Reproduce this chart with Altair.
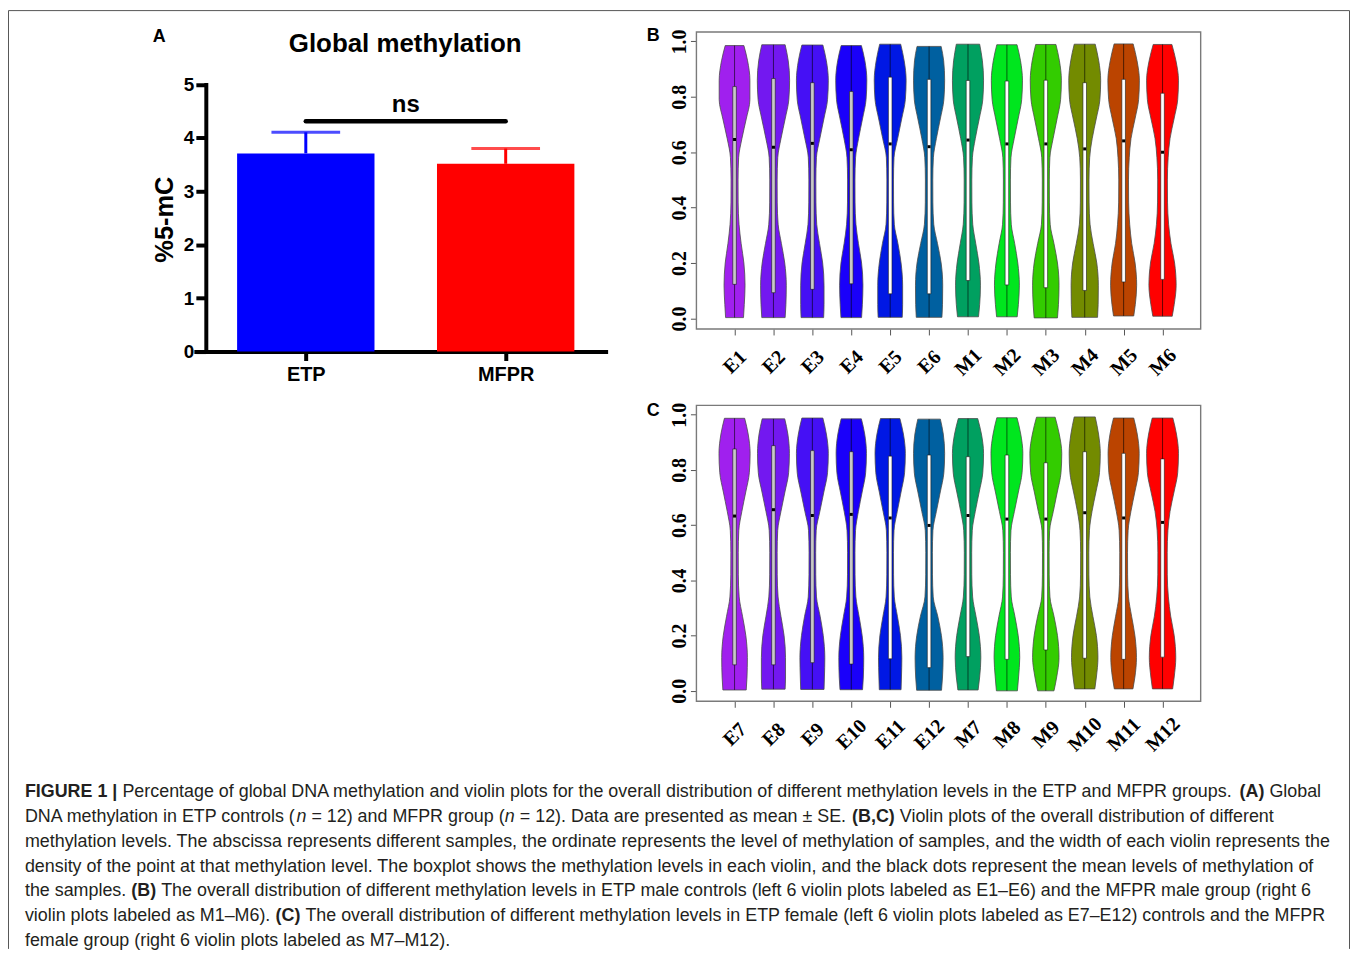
import altair as alt
import pandas as pd

# ================= Panel A : global methylation (mean + SE) =================
groups_A = ["ETP", "MFPR"]
positions_A = [1, 2]
means_A = [3.71, 3.515]
mean_plus_se_A = [4.105, 3.80]
colors_A = ["#0000FF", "#FF0000"]
sig_level_A = 4.31
sig_label_A = "ns"

# ================= Panels B & C : violin plots =================
names_B = ["E1", "E2", "E3", "E4", "E5", "E6", "M1", "M2", "M3", "M4", "M5", "M6"]
names_C = ["E7", "E8", "E9", "E10", "E11", "E12", "M7", "M8", "M9", "M10", "M11", "M12"]
violin_colors = ["#A020EE", "#7318F0", "#4510F5", "#1A00FA", "#0018E4", "#0060A0",
                 "#00A060", "#00E61E", "#33CC00", "#738B00", "#BB4400", "#FF0000"]
box_colors = ["#C8C8C8", "#C8C8C8", "#C8C8C8", "#C8C8C8", "#FFFFFF", "#FFFFFF",
              "#FFFFFF", "#FFFFFF", "#FFFFFF", "#FFFFFF", "#FFFFFF", "#FFFFFF"]

min_B = [0.003, 0.003, 0.003, 0.003, 0.004, 0.004, 0.006, 0.006, 0.002, 0.004, 0.009, 0.008]
max_B = [0.985, 0.988, 0.987, 0.985, 0.990, 0.982, 0.990, 0.988, 0.989, 0.990, 0.991, 0.989]
q1_B = [0.123, 0.093, 0.105, 0.125, 0.089, 0.089, 0.137, 0.121, 0.111, 0.101, 0.132, 0.141]
q3_B = [0.837, 0.866, 0.851, 0.819, 0.871, 0.863, 0.859, 0.857, 0.860, 0.851, 0.863, 0.813]
mean_B = [0.646, 0.618, 0.632, 0.609, 0.630, 0.620, 0.644, 0.630, 0.630, 0.612, 0.641, 0.600]

min_C = [0.003, 0.006, 0.005, 0.004, 0.004, 0.002, 0.003, 0.000, 0.000, 0.007, 0.007, 0.007]
max_C = [0.987, 0.985, 0.988, 0.985, 0.986, 0.984, 0.986, 0.989, 0.991, 0.992, 0.988, 0.988]
q1_C = [0.094, 0.094, 0.102, 0.097, 0.116, 0.084, 0.124, 0.114, 0.148, 0.118, 0.114, 0.122]
q3_C = [0.876, 0.888, 0.870, 0.866, 0.850, 0.854, 0.848, 0.854, 0.826, 0.866, 0.860, 0.840]
mean_C = [0.633, 0.656, 0.635, 0.639, 0.626, 0.599, 0.635, 0.622, 0.622, 0.645, 0.626, 0.610]

# violin half-widths (x units) at: min, these inner levels, max
inner_levels = [0.05, 0.12, 0.20, 0.27, 0.34, 0.42, 0.50, 0.58, 0.65, 0.72, 0.79, 0.86, 0.93]
halfwidth_B = [
    [.23, .25, .27, .24, .17, .115, .092, .09, .105, .19, .30, .395, .395, .335, .24],
    [.30, .32, .33, .29, .205, .12, .097, .095, .11, .195, .30, .395, .415, .38, .30],
    [.29, .30, .30, .265, .185, .112, .092, .09, .104, .193, .295, .39, .41, .36, .27],
    [.265, .285, .30, .265, .185, .12, .097, .095, .11, .188, .288, .38, .40, .35, .26],
    [.31, .32, .32, .28, .20, .106, .087, .085, .098, .193, .295, .39, .41, .36, .27],
    [.33, .345, .35, .31, .217, .12, .097, .095, .11, .188, .288, .38, .40, .375, .31],
    [.27, .30, .32, .28, .20, .122, .10, .098, .113, .188, .288, .38, .40, .37, .30],
    [.265, .295, .32, .28, .20, .112, .092, .09, .104, .188, .288, .38, .40, .35, .26],
    [.30, .325, .34, .30, .21, .112, .092, .09, .104, .188, .288, .38, .40, .35, .26],
    [.33, .345, .35, .31, .217, .137, .112, .11, .127, .193, .295, .39, .41, .36, .27],
    [.26, .30, .335, .295, .208, .156, .128, .125, .144, .19, .292, .385, .405, .345, .245],
    [.25, .30, .35, .31, .217, .156, .128, .125, .144, .193, .295, .39, .41, .345, .24],
]
halfwidth_C = [
    [.30, .32, .33, .29, .205, .119, .097, .095, .109, .188, .288, .38, .40, .35, .26],
    [.30, .31, .31, .273, .192, .119, .097, .095, .109, .193, .295, .39, .41, .37, .29],
    [.30, .31, .32, .28, .20, .106, .087, .085, .098, .193, .295, .39, .41, .36, .27],
    [.29, .31, .32, .28, .20, .119, .097, .095, .109, .183, .28, .37, .39, .345, .26],
    [.28, .29, .30, .265, .186, .106, .087, .085, .098, .183, .28, .37, .39, .34, .25],
    [.32, .345, .36, .317, .223, .106, .087, .085, .098, .188, .288, .38, .40, .365, .29],
    [.26, .30, .33, .29, .205, .119, .097, .095, .109, .188, .288, .38, .40, .345, .25],
    [.27, .30, .33, .29, .205, .112, .092, .09, .104, .193, .295, .39, .41, .355, .26],
    [.21, .28, .34, .30, .21, .106, .087, .085, .098, .193, .295, .39, .41, .345, .24],
    [.26, .30, .34, .30, .21, .131, .107, .105, .121, .188, .288, .38, .40, .355, .27],
    [.24, .29, .33, .29, .205, .125, .102, .10, .115, .188, .288, .38, .40, .35, .26],
    [.26, .30, .34, .30, .21, .15, .122, .12, .138, .193, .295, .39, .41, .358, .265],
]

# ================= caption =================
caption_lines = [
    [("FIGURE 1 |", "b"), (" Percentage of global DNA methylation and violin plots for the overall distribution of different methylation levels in the ETP and MFPR groups. ", "r"), ("(A)", "b"), (" Global", "r")],
    [("DNA methylation in ETP controls (", "r"), ("n", "i"), (" = 12) and MFPR group (", "r"), ("n", "i"), (" = 12). Data are presented as mean \u00b1 SE. ", "r"), ("(B,C)", "b"), (" Violin plots of the overall distribution of different", "r")],
    [("methylation levels. The abscissa represents different samples, the ordinate represents the level of methylation of samples, and the width of each violin represents the", "r")],
    [("density of the point at that methylation level. The boxplot shows the methylation levels in each violin, and the black dots represent the mean levels of methylation of", "r")],
    [("the samples. ", "r"), ("(B)", "b"), (" The overall distribution of different methylation levels in ETP male controls (left 6 violin plots labeled as E1\u2013E6) and the MFPR male group (right 6", "r")],
    [("violin plots labeled as M1\u2013M6). ", "r"), ("(C)", "b"), (" The overall distribution of different methylation levels in ETP female (left 6 violin plots labeled as E7\u2013E12) controls and the MFPR", "r")],
    [("female group (right 6 violin plots labeled as M7\u2013M12).", "r")],
]

# ---------------- layout (pixels inside the 1348 x 943 canvas) ----------------
W, H = 1348, 943
SANS = "Liberation Sans"
SERIF = "Liberation Serif"


def lin(domain, rng):
    return alt.Scale(domain=domain, range=rng, nice=False, zero=False, padding=0)


XA = lin([0.45, 2.5], [188.7, 600.3])
YA = lin([0, 5], [343.0, 74.7])
XLIM = [0.02, 12.98]
YLIM = [-0.038, 1.034]
XV = lin(XLIM, [691.5, 1198.0])
YB = lin(YLIM, [320.3, 22.0])
YC = lin(YLIM, [694.3, 397.0])

# ---------------- Panel A ----------------
dfA = pd.DataFrame({"group": groups_A, "pos": positions_A, "mean": means_A,
                    "top": mean_plus_se_A, "col": colors_A})
dfSig = pd.DataFrame({"x1": [positions_A[0]], "x2": [positions_A[1]],
                      "xm": [(positions_A[0] + positions_A[1]) / 2],
                      "y": [sig_level_A], "label": [sig_label_A]})

axA_y = alt.Axis(orient="left", offset=-198.7, values=[0, 1, 2, 3, 4, 5], grid=False,
                 tickSize=10, tickWidth=4, tickColor="black", domainWidth=4, domainColor="black",
                 domainCap="square", labelFont=SANS, labelFontWeight="bold", labelFontSize=19,
                 labelColor="black", labelPadding=2, labelFlush=False,
                 title="%5-mC", titleFont=SANS, titleFontSize=25.5, titleFontWeight="bold",
                 titleColor="black", titleAngle=270, titleX=-41.7, titleY=210,
                 titleAlign="center", titleBaseline="middle")
axA_x = alt.Axis(orient="bottom", offset=343 - H, values=positions_A, grid=False,
                 labelExpr="datum.value == 1 ? '%s' : '%s'" % (groups_A[0], groups_A[1]),
                 tickSize=9, tickWidth=4, tickColor="black", domainWidth=4, domainColor="black",
                 domainCap="square", labelFont=SANS, labelFontWeight="bold", labelFontSize=20,
                 labelColor="black", labelPadding=4, labelFlush=False, labelOverlap=False, title="")

XA_ENC = dict(scale=XA, axis=axA_x)
YA_ENC = dict(scale=YA, axis=axA_y)

barsA = alt.Chart(dfA).mark_bar(size=138).encode(
    x=alt.X("pos:Q", **XA_ENC),
    y=alt.Y("mean:Q", **YA_ENC),
    color=alt.Color("col:N", scale=None))
errA = alt.Chart(dfA).mark_rule(strokeWidth=3).encode(
    x=alt.X("pos:Q", **XA_ENC),
    y=alt.Y("mean:Q", **YA_ENC), y2="top:Q",
    color=alt.Color("col:N", scale=None))
capA = alt.Chart(dfA).mark_tick(orient="horizontal", size=69, thickness=3).encode(
    x=alt.X("pos:Q", **XA_ENC),
    y=alt.Y("top:Q", **YA_ENC),
    color=alt.Color("col:N", scale=None))
sigA = alt.Chart(dfSig).mark_rule(strokeWidth=4.5, strokeCap="round", color="black").encode(
    x=alt.X("x1:Q", **XA_ENC), x2="x2:Q",
    y=alt.Y("y:Q", **YA_ENC))
nsA = alt.Chart(dfSig).mark_text(dy=-9, baseline="alphabetic", align="center", font=SANS,
                                 fontSize=24, fontWeight="bold", color="black").encode(
    x=alt.X("xm:Q", **XA_ENC),
    y=alt.Y("y:Q", **YA_ENC), text="label:N")
panelA = alt.layer(barsA, errA, capA, sigA, nsA)

# ---------------- Panels B and C ----------------
def violin_table(names, mins, maxs, hws):
    rows = []
    for i, name in enumerate(names):
        levels = [mins[i]] + inner_levels + [maxs[i]]
        for lv, w in zip(levels, hws[i]):
            rows.append({"name": name, "pos": i + 1, "level": lv,
                         "lo": i + 1 - w, "hi": i + 1 + w, "col": violin_colors[i]})
    return pd.DataFrame(rows)


def stats_table(names, mins, maxs, q1, q3, mean):
    return pd.DataFrame({"name": names, "pos": list(range(1, len(names) + 1)),
                         "vmin": mins, "vmax": maxs, "q1": q1, "q3": q3, "mean": mean,
                         "boxcol": box_colors})


def violin_panel(names, dfv, dfs, YS, axis_y_px):
    label_expr = "[" + ",".join("'%s'" % n for n in names) + "][datum.value - 1]"
    ax_x = alt.Axis(orient="bottom", offset=axis_y_px - H, values=list(range(1, 13)),
                    labelExpr=label_expr, grid=False, domain=False, tickSize=6,
                    tickColor="#555555", tickWidth=1, labelFont=SERIF, labelFontWeight="bold",
                    labelFontSize=20, labelColor="black", labelAngle=315, labelAlign="center",
                    labelBaseline="middle", labelPadding=27, labelFlush=False,
                    labelOverlap=False, title="")
    ax_y = alt.Axis(orient="left", offset=-691.5, values=[0, 0.2, 0.4, 0.6, 0.8, 1.0],
                    format=".1f", grid=False, domain=False, tickSize=6, tickColor="#555555",
                    tickWidth=1, labelFont=SERIF, labelFontWeight="bold", labelFontSize=20,
                    labelColor="black", labelAngle=270, labelAlign="center",
                    labelBaseline="bottom", labelPadding=1, labelFlush=False,
                    labelOverlap=False, title="")
    XE = dict(scale=XV, axis=ax_x)
    YE = dict(scale=YS, axis=ax_y)
    frame_df = pd.DataFrame({"x1": [XLIM[0]], "x2": [XLIM[1]], "y1": [YLIM[0]], "y2": [YLIM[1]]})
    frame = alt.Chart(frame_df).mark_rect(filled=False, color="#7a7a7a", strokeWidth=1.4).encode(
        x=alt.X("x1:Q", **XE), x2="x2:Q",
        y=alt.Y("y1:Q", **YE), y2="y2:Q")
    violins = alt.Chart(dfv).mark_area(orient="horizontal", interpolate="monotone",
                                       stroke="#4a4a4a", strokeWidth=0.8).encode(
        x=alt.X("lo:Q", **XE), x2="hi:Q",
        y=alt.Y("level:Q", **YE),
        color=alt.Color("col:N", scale=None),
        detail="name:N")
    whisk = alt.Chart(dfs).mark_rule(color="black", strokeWidth=1, opacity=0.6).encode(
        x=alt.X("pos:Q", **XE),
        y=alt.Y("vmin:Q", **YE), y2="vmax:Q")
    boxes = alt.Chart(dfs).mark_bar(size=3.6, stroke="#1a1a1a", strokeWidth=0.6).encode(
        x=alt.X("pos:Q", **XE),
        y=alt.Y("q1:Q", **YE), y2="q3:Q",
        color=alt.Color("boxcol:N", scale=None))
    means = alt.Chart(dfs).mark_square(size=9, color="black", opacity=1).encode(
        x=alt.X("pos:Q", **XE),
        y=alt.Y("mean:Q", **YE))
    return alt.layer(frame, violins, whisk, boxes, means)


panelB = violin_panel(names_B, violin_table(names_B, min_B, max_B, halfwidth_B),
                      stats_table(names_B, min_B, max_B, q1_B, q3_B, mean_B), YB, 320.3)
panelC = violin_panel(names_C, violin_table(names_C, min_C, max_C, halfwidth_C),
                      stats_table(names_C, min_C, max_C, q1_C, q3_C, mean_C), YC, 694.3)

# ---------------- titles, letters ----------------
def label(text, x, y, size, font=SANS, weight="bold"):
    return alt.Chart(pd.DataFrame({"t": [text]})).mark_text(
        align="center", baseline="middle", font=font, fontSize=size, fontWeight=weight,
        color="black").encode(x=alt.value(x), y=alt.value(y), text="t:N")

titleA = label("Global methylation", 399, 34, 26)
letterA = label("A", 152, 27, 18)
letterB = label("B", 648, 26.5, 18)
letterC = label("C", 648, 402.5, 18)

# ---------------- caption text (segments placed with Arial metrics) ----------------
REG = {' ': 278, '!': 278, '"': 355, '#': 556, '$': 556, '%': 889, '&': 667, "'": 191,
       '(': 333, ')': 333, '*': 389, '+': 584, ',': 278, '-': 333, '.': 278, '/': 278,
       ':': 278, ';': 278, '<': 584, '=': 584, '>': 584, '?': 556, '@': 1015,
       'A': 667, 'B': 667, 'C': 722, 'D': 722, 'E': 667, 'F': 611, 'G': 778, 'H': 722,
       'I': 278, 'J': 500, 'K': 667, 'L': 556, 'M': 833, 'N': 722, 'O': 778, 'P': 667,
       'Q': 778, 'R': 722, 'S': 667, 'T': 611, 'U': 722, 'V': 667, 'W': 944, 'X': 667,
       'Y': 667, 'Z': 611, '[': 278, ']': 278, '|': 260, 'a': 556, 'b': 556, 'c': 500,
       'd': 556, 'e': 556, 'f': 278, 'g': 556, 'h': 556, 'i': 222, 'j': 222, 'k': 500,
       'l': 222, 'm': 833, 'n': 556, 'o': 556, 'p': 556, 'q': 556, 'r': 333, 's': 500,
       't': 278, 'u': 556, 'v': 500, 'w': 722, 'x': 500, 'y': 500, 'z': 500,
       '\u2013': 556, '\u00b1': 584}
for d in "0123456789":
    REG[d] = 556
BOLD = {' ': 278, '(': 333, ')': 333, ',': 278, '|': 280, 'A': 722, 'B': 722, 'C': 722,
        'E': 667, 'F': 611, 'G': 778, 'I': 278, 'R': 722, 'U': 722, '1': 556}


def em_width(s, style):
    table = BOLD if style == "b" else REG
    return sum(table.get(ch, REG.get(ch, 556)) for ch in s) / 1000.0


def line_em(line):
    return sum(em_width(s, st) for s, st in line)


fs = (1302 / line_em(caption_lines[0]) + 1313 / line_em(caption_lines[2])) / 2
rows = []
for k, line in enumerate(caption_lines):
    cursor = 17.0
    baseline_y = 790.3 + 25 * k
    for s, st in line:
        lead = len(s) - len(s.lstrip(" "))
        rows.append({"t": s.strip(" "), "px": cursor + lead * 0.278 * fs,
                     "py": baseline_y, "style": st})
        cursor += em_width(s, st) * fs
cap_df = pd.DataFrame(rows)


def caption_layer(style, weight, fstyle):
    return alt.Chart(cap_df[cap_df["style"] == style]).mark_text(
        align="left", baseline="alphabetic", font=SANS, fontSize=fs, fontWeight=weight,
        fontStyle=fstyle, color="#231f20").encode(
        x=alt.X("px:Q", scale=None), y=alt.Y("py:Q", scale=None), text="t:N")

capR = caption_layer("r", "normal", "normal")
capB = caption_layer("b", "bold", "normal")
capI = caption_layer("i", "normal", "italic")

# ---------------- outer frame (left, top, right edges) ----------------
frame_df = pd.DataFrame({"x1": [0.5, 0.5, W - 0.5], "x2": [0.5, W - 0.5, W - 0.5],
                         "y1": [0.5, 0.5, 0.5], "y2": [H, 0.5, H]})
outer = alt.Chart(frame_df).mark_rule(color="#555555", strokeWidth=1).encode(
    x=alt.X("x1:Q", scale=None), x2="x2:Q", y=alt.Y("y1:Q", scale=None), y2="y2:Q")

chart = alt.layer(
    outer, panelA, panelB, panelC, titleA, letterA, letterB, letterC, capR, capB, capI
).resolve_scale(x="independent", y="independent").properties(
    width=W, height=H, padding=0, autosize=alt.AutoSizeParams(type="none")
).configure_view(strokeWidth=0).configure_axis(grid=False)

chart.save("out.html", embed_options={"renderer": "svg", "actions": False})
